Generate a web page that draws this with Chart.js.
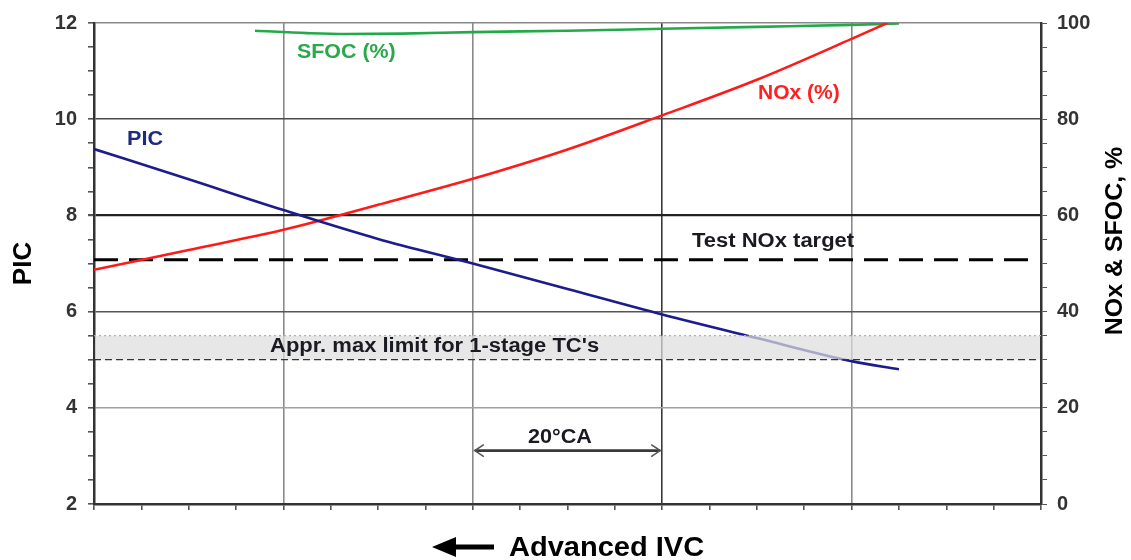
<!DOCTYPE html>
<html>
<head>
<meta charset="utf-8">
<script src="https://cdn.jsdelivr.net/npm/chart.js@4"></script>
<style>
  html, body { margin: 0; padding: 0; background: #fff; }
  #wrap { width: 1131px; height: 560px; position: relative; }
</style>
</head>
<body>
<div id="wrap"><canvas id="c" width="1131" height="560"></canvas></div>
<script>
// ---- data ----
const picX       = [0, 2, 4, 6, 8, 10, 12, 14, 16, 17];
const picValues  = [9.38, 8.75, 8.11, 7.51, 7.0, 6.47, 5.94, 5.45, 4.97, 4.8];
const noxX       = [0, 2, 4, 6, 8, 10, 12, 14, 16, 16.75];
const noxValues  = [48.7, 52.8, 57.0, 62.2, 67.6, 73.7, 80.8, 88.2, 96.7, 100];
const sfocX      = [3.4, 4.5, 5.3, 6.5, 8, 10, 12, 14, 16, 17];
const sfocValues = [98.4, 97.9, 97.7, 97.8, 98.1, 98.4, 98.8, 99.2, 99.6, 99.9];
const noxTargetX = [0, 19.8];
const noxTarget  = [50.8, 50.8];
const tcLimitBand = [5.0, 5.5];          // PIC
const caSpan = [8, 12];                  // 20°CA span on x
const caLevel = 3.11;                    // PIC level of the 20°CA arrow
const leftTicks = [2, 4, 6, 8, 10, 12];
const rightTicks = [0, 20, 40, 60, 80, 100];

const pts = (xs, ys) => xs.map((x, i) => ({ x: x, y: ys[i] }));

const FONT = "'Liberation Sans', Arial, sans-serif";
const hGridColor = { 12: '#8a8a8a', 10: '#4a4a4a', 8: '#222', 6: '#555', 4: '#a0a0a0' };
const vGridColor = { 4: '#8a8a8a', 8: '#8a8a8a', 12: '#3a3a3a', 16: '#8a8a8a' };

function stretchText(ctx, text, x, y, sx) {
  ctx.save();
  ctx.translate(x, y);
  ctx.scale(sx, 1);
  ctx.fillText(text, 0, 0);
  ctx.restore();
}

const overlay = {
  id: 'overlay',
  afterDatasetsDraw(chart) {
    const { ctx, chartArea: a, scales: { x, y } } = chart;
    ctx.save();
    // band: approx max limit for 1-stage TC's
    const yTop = y.getPixelForValue(tcLimitBand[1]);
    const yBot = y.getPixelForValue(tcLimitBand[0]);
    ctx.fillStyle = 'rgba(222,222,222,0.72)';
    ctx.fillRect(a.left + 1, yTop, a.right - a.left - 2, yBot - yTop);
    ctx.strokeStyle = '#b0b0b0';
    ctx.lineWidth = 1.2;
    ctx.setLineDash([2, 3]);
    ctx.beginPath(); ctx.moveTo(a.left, yTop); ctx.lineTo(a.right, yTop); ctx.stroke();
    ctx.strokeStyle = '#333';
    ctx.setLineDash([7, 4]);
    ctx.beginPath(); ctx.moveTo(a.left, yBot); ctx.lineTo(a.right, yBot); ctx.stroke();
    ctx.setLineDash([]);

    // 20°CA double arrow
    const x1 = x.getPixelForValue(caSpan[0]) + 2;
    const x2 = x.getPixelForValue(caSpan[1]) - 2;
    const ya = y.getPixelForValue(caLevel);
    ctx.strokeStyle = '#3a3a3a';
    ctx.lineWidth = 2.6;
    ctx.beginPath(); ctx.moveTo(x1, ya); ctx.lineTo(x2, ya); ctx.stroke();
    ctx.lineWidth = 1.6;
    ctx.strokeStyle = '#555';
    ctx.beginPath();
    ctx.moveTo(x1 + 9, ya - 6); ctx.lineTo(x1, ya); ctx.lineTo(x1 + 9, ya + 6);
    ctx.moveTo(x2 - 9, ya - 6); ctx.lineTo(x2, ya); ctx.lineTo(x2 - 9, ya + 6);
    ctx.stroke();

    // labels
    ctx.font = 'bold 20px ' + FONT;
    ctx.textBaseline = 'alphabetic';
    ctx.textAlign = 'left';
    ctx.fillStyle = '#2ba84a'; stretchText(ctx, 'SFOC (%)', 297, 58, 1.07);
    ctx.fillStyle = '#ff2020'; stretchText(ctx, 'NOx (%)', 758, 99, 1.05);
    ctx.fillStyle = '#1c2a80'; stretchText(ctx, 'PIC', 127, 145, 1.08);
    ctx.fillStyle = '#1a1a22';
    stretchText(ctx, 'Test NOx target', 692, 247, 1.1);
    stretchText(ctx, "Appr. max limit for 1-stage TC's", 270, 352, 1.1);
    stretchText(ctx, '20°CA', 528, 443, 1.08);
    ctx.restore();
  },
  afterDraw(chart) {
    const { ctx } = chart;
    ctx.save();
    // right axis title (reads bottom to top)
    ctx.translate(1115, 241);
    ctx.rotate(-Math.PI / 2);
    ctx.font = 'bold 24px ' + FONT;
    ctx.fillStyle = '#000';
    ctx.textAlign = 'center';
    ctx.textBaseline = 'middle';
    ctx.scale(1.04, 1);
    ctx.fillText('NOx & SFOC, %', 0, 0);
    ctx.restore();

    // bottom label with arrow
    ctx.save();
    ctx.fillStyle = '#000';
    ctx.strokeStyle = '#000';
    ctx.lineWidth = 5;
    ctx.beginPath(); ctx.moveTo(452, 547); ctx.lineTo(494, 547); ctx.stroke();
    ctx.beginPath();
    ctx.moveTo(432, 547); ctx.lineTo(456, 537); ctx.lineTo(456, 557); ctx.closePath(); ctx.fill();
    ctx.font = 'bold 27px ' + FONT;
    ctx.textAlign = 'left';
    ctx.textBaseline = 'alphabetic';
    stretchText(ctx, 'Advanced IVC', 509, 556, 1.075);
    ctx.restore();
  }
};

new Chart(document.getElementById('c'), {
  type: 'line',
  data: {
    datasets: [
      { label: 'PIC', data: pts(picX, picValues), yAxisID: 'y', borderColor: '#1c1c8c', borderWidth: 2.6,
        pointRadius: 0, cubicInterpolationMode: 'monotone' },
      { label: 'NOx (%)', data: pts(noxX, noxValues), yAxisID: 'y2', borderColor: '#ff1a1a', borderWidth: 2.6,
        pointRadius: 0, cubicInterpolationMode: 'monotone' },
      { label: 'SFOC (%)', data: pts(sfocX, sfocValues), yAxisID: 'y2', borderColor: '#22aa4a', borderWidth: 2.6,
        pointRadius: 0, cubicInterpolationMode: 'monotone' },
      { label: 'Test NOx target', data: pts(noxTargetX, noxTarget), yAxisID: 'y2', borderColor: '#000',
        borderWidth: 3, borderDash: [24, 11], pointRadius: 0 }
    ]
  },
  options: {
    responsive: false,
    animation: false,
    events: [],
    layout: { padding: { top: 19, left: 0, right: 0, bottom: 0 } },
    plugins: { legend: { display: false }, tooltip: { enabled: false } },
    scales: {
      x: {
        type: 'linear', min: 0, max: 20,
        afterFit(s) { s.height = 56; },
        ticks: { stepSize: 1, maxTicksLimit: 100, autoSkip: false, callback: () => '' },
        grid: {
          color: (c) => vGridColor[c.tick && c.tick.value] || 'rgba(0,0,0,0)',
          lineWidth: 1.6, tickLength: 6, tickColor: '#555', drawTicks: true
        },
        border: { display: true, color: '#333', width: 2.5 }
      },
      y: {
        type: 'linear', position: 'left', min: 2, max: 12,
        afterFit(s) { s.width = 94; },
        title: { display: true, text: 'PIC', color: '#000', font: { family: FONT, size: 26, weight: 'bold' },
                 padding: { top: 8, bottom: 0 } },
        ticks: {
          stepSize: 0.5, maxTicksLimit: 100, autoSkip: false, padding: 11, color: '#333',
          font: { family: FONT, size: 20, weight: 'bold' },
          callback: (v) => leftTicks.includes(v) ? String(v) : ''
        },
        grid: {
          color: (c) => hGridColor[c.tick && c.tick.value] || 'rgba(0,0,0,0)',
          lineWidth: (c) => (c.tick && c.tick.value === 8) ? 2.2 : 1.6,
          tickLength: 6, tickColor: '#555'
        },
        border: { display: true, color: '#333', width: 2.5 }
      },
      y2: {
        type: 'linear', position: 'right', min: 0, max: 100,
        afterFit(s) { s.width = 90; },
        ticks: {
          stepSize: 5, maxTicksLimit: 100, autoSkip: false, padding: 10, color: '#333',
          font: { family: FONT, size: 20, weight: 'bold' },
          callback: (v) => rightTicks.includes(v) ? String(v) : ''
        },
        grid: { drawOnChartArea: false, tickLength: 6, tickColor: '#555' },
        border: { display: true, color: '#333', width: 2.5 }
      }
    }
  },
  plugins: [overlay]
});
</script>
</body>
</html>
